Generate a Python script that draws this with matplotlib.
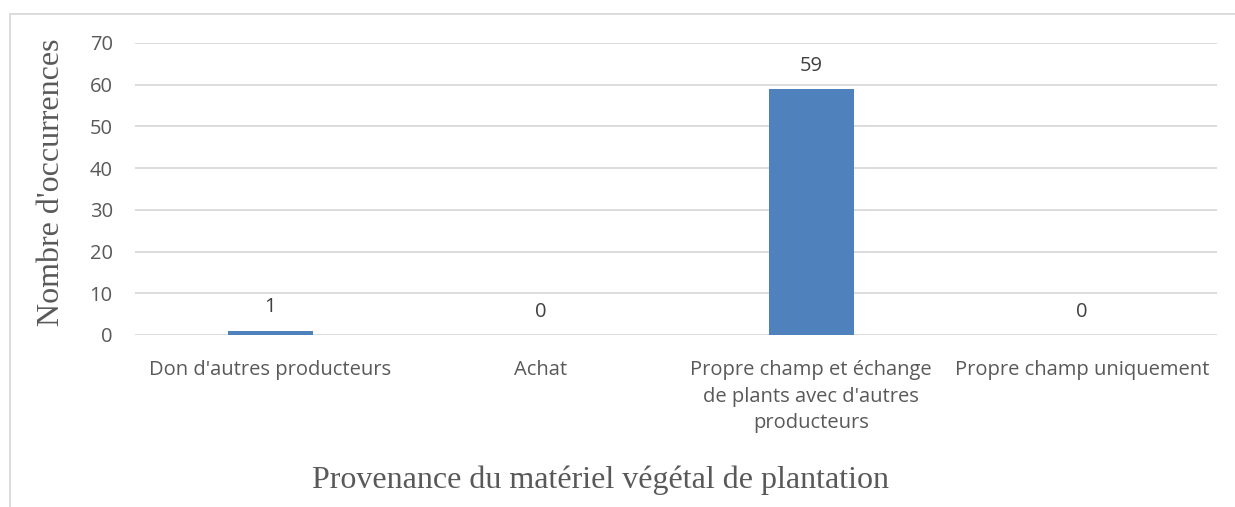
import numpy as np
import matplotlib.pyplot as plt
from matplotlib.patches import Rectangle

categories = ["Don d'autres producteurs", "Achat",
              "Propre champ et échange\nde plants avec d'autres\nproducteurs",
              "Propre champ uniquement"]
values = [1, 0, 59, 0]
yticks = [0, 10, 20, 30, 40, 50, 60, 70]

bar_color = '#4F81BD'
text_color = '#595959'
grid_color = '#D9D9D9'

fig = plt.figure(figsize=(12.35, 5.07), dpi=100)
ax = fig.add_axes([0.1093, 0.3393, 0.8761, 0.5759])

x = np.arange(len(categories))
ax.bar(x, values, width=0.315, color=bar_color, zorder=3)

for xi, v in zip(x, values):
    ax.text(xi, v + 5.6, str(v), ha='center', va='center', fontsize=14.5,
            color='#404040', family='Open Sans')

ax.set_xlim(-0.5, len(categories) - 0.5)
ax.set_ylim(0, 70)
ax.set_yticks(yticks)
ax.set_xticks(x)
ax.set_xticklabels(categories, fontsize=14.5, color=text_color, family='Open Sans',
                   linespacing=1.45, va='top')
ax.tick_params(axis='both', length=0, colors=text_color)
ax.tick_params(axis='x', pad=18)
ax.tick_params(axis='y', pad=16, labelsize=14.5)
for lbl in ax.get_yticklabels():
    lbl.set_family('Open Sans')

ax.grid(axis='y', color=grid_color, linewidth=1.3, zorder=0)
for s in ax.spines.values():
    s.set_visible(False)

fig.text(0.042, 0.64, "Nombre d'occurrences", rotation=90, ha='center', va='center',
         fontsize=23, color=text_color, family='Liberation Serif')
fig.text(0.486, 0.053, "Provenance du matériel végétal de plantation", ha='center',
         va='center', fontsize=23, color=text_color, family='Liberation Serif')

# chart frame
fig.patches.append(Rectangle((10 / 1235, -0.1), 1.2, 1 - 14 / 507 + 0.1,
                             transform=fig.transFigure, fill=False,
                             edgecolor=grid_color, linewidth=1.3))

fig.savefig('out.png', dpi=100)
